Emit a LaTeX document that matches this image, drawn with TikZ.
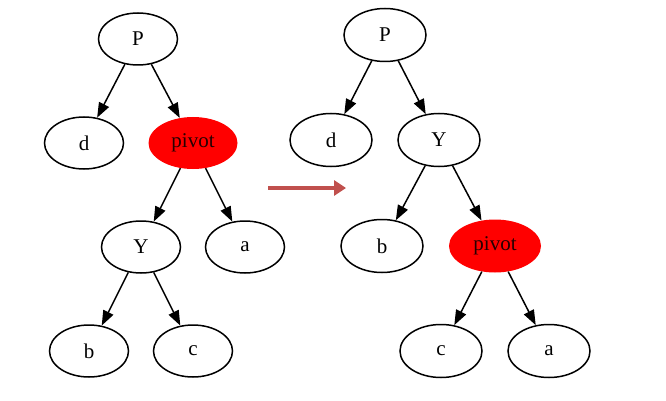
\documentclass[tikz,border=0pt]{standalone}
\usepackage{fontspec}
\setmainfont{Liberation Serif}
\usetikzlibrary{shapes.geometric,arrows.meta}
\definecolor{arrowred}{RGB}{192,80,77}
\tikzset{
  treenode/.style={ellipse,draw=black,line width=1.5pt,inner sep=0pt,
     minimum width=79pt,minimum height=52pt,font=\fontsize{21}{24}\selectfont},
  bignode/.style={treenode,minimum width=82pt,minimum height=53pt},
  pivotnode/.style={ellipse,fill=red,draw=none,inner sep=0pt,
     minimum width=89pt,minimum height=52pt,font=\fontsize{21}{24}\selectfont,text=black!85!red},
  edge/.style={line width=1.5pt,-{Triangle[length=15pt,width=11pt]}},
  transform/.style={line width=4pt,draw=arrowred,-{Triangle[length=12pt,width=15pt]}}
}
\begin{document}
\begin{tikzpicture}[x=1pt,y=-1pt]
\useasboundingbox (0,0) rectangle (666,401);
% left tree
\node[treenode] (lP) at (138,39) {P};
\node[treenode] (ld) at (84,143) {d};
\node[pivotnode] (lpv) at (193,143) {pivot};
\node[treenode] (lY) at (141,247) {Y};
\node[treenode] (la) at (245,247) {a};
\node[treenode] (lb) at (89,351) {b};
\node[treenode] (lc) at (193,351) {c};
\draw[edge] (lP) -- (ld);
\draw[edge] (lP) -- (lpv);
\draw[edge] (lpv) -- (lY);
\draw[edge] (lpv) -- (la);
\draw[edge] (lY) -- (lb);
\draw[edge] (lY) -- (lc);
% right tree
\node[bignode] (rP) at (385,35) {P};
\node[bignode] (rd) at (331,140) {d};
\node[bignode] (rY) at (439,140) {Y};
\node[bignode] (rb) at (382,246) {b};
\node[pivotnode,minimum width=92pt,minimum height=53pt] (rpv) at (495,246) {pivot};
\node[bignode] (rc) at (441,351) {c};
\node[bignode] (ra) at (549,351) {a};
\draw[edge] (rP) -- (rd);
\draw[edge] (rP) -- (rY);
\draw[edge] (rY) -- (rb);
\draw[edge] (rY) -- (rpv);
\draw[edge] (rpv) -- (rc);
\draw[edge] (rpv) -- (ra);
% transformation arrow
\coordinate (tA) at (268,188);
\coordinate (tB) at (346,188);
\draw[transform] (tA) -- (tB);
\end{tikzpicture}
\end{document}
